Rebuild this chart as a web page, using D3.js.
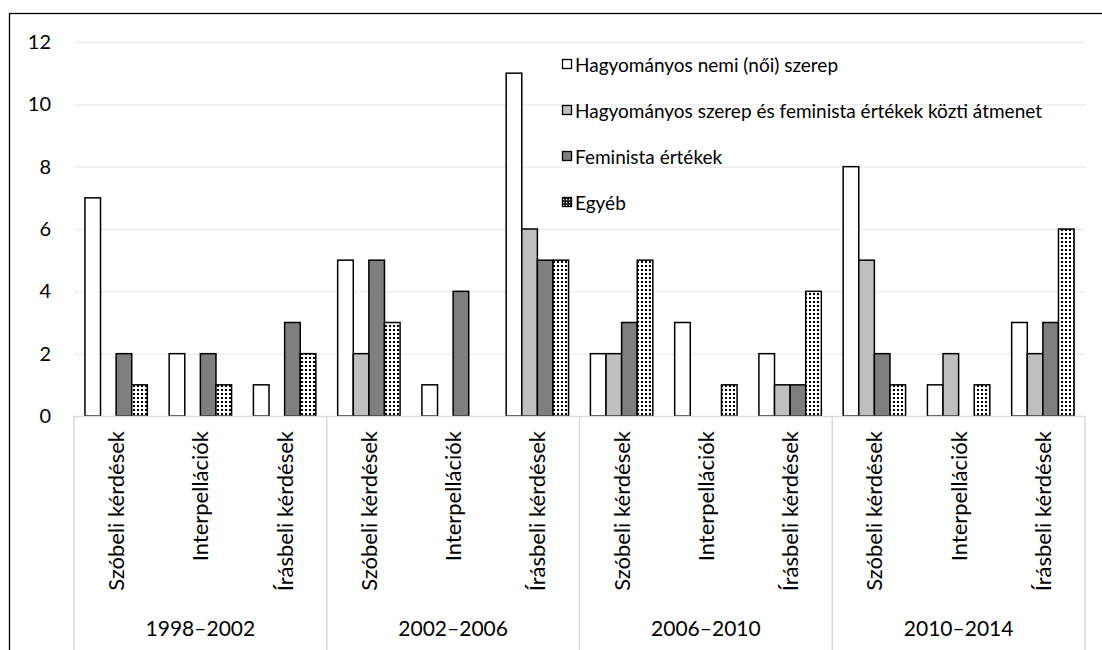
<!DOCTYPE html>
<html>
<head>
<meta charset="utf-8">
<script src="https://cdnjs.cloudflare.com/ajax/libs/d3/7.8.5/d3.min.js"></script>
<style>
  body { margin: 0; background: #fff; }
  text { font-family: Lato, "Open Sans", sans-serif; fill: #000; }
</style>
</head>
<body>
<div class="vis"></div>
<script>
// Data
var periods = ["1998–2002", "2002–2006", "2006–2010", "2010–2014"];
var types = ["Szóbeli kérdések", "Interpellációk", "Írásbeli kérdések"];
var seriesNames = [
  "Hagyományos nemi (női) szerep",
  "Hagyományos szerep és feminista értékek közti átmenet",
  "Feminista értékek",
  "Egyéb"
];
// one value per period x type, in order
var traditional = [7, 2, 1, 5, 1, 11, 2, 3, 2, 8, 1, 3];
var transition  = [0, 0, 0, 2, 0, 6, 2, 0, 1, 5, 2, 2];
var feminist    = [2, 2, 3, 5, 4, 5, 3, 0, 1, 2, 0, 3];
var other       = [1, 1, 2, 3, 0, 5, 5, 1, 4, 1, 1, 6];
var yTicks = [0, 2, 4, 6, 8, 10, 12];

var seriesValues = [traditional, transition, feminist, other];

var width = 1102, height = 650;
var plot = {left: 74, right: 1085, top: 42, bottom: 416};

var svg = d3.select(".vis")
  .append("svg")
  .attr("width", width)
  .attr("height", height);

// dotted pattern for "Egyéb"
var defs = svg.append("defs");
var pat = defs.append("pattern")
  .attr("id", "dots")
  .attr("patternUnits", "userSpaceOnUse")
  .attr("width", 4).attr("height", 4);
pat.append("rect").attr("width", 4).attr("height", 4).attr("fill", "#fff");
pat.append("rect").attr("x", 1).attr("y", 1).attr("width", 2).attr("height", 2).attr("fill", "#000");

// the small legend swatch reads darker (white dots on black)
var pat2 = defs.append("pattern")
  .attr("id", "dotsDark")
  .attr("patternUnits", "userSpaceOnUse")
  .attr("width", 3).attr("height", 3);
pat2.append("rect").attr("width", 3).attr("height", 3).attr("fill", "#222");
pat2.append("rect").attr("x", 1).attr("y", 1).attr("width", 1.2).attr("height", 1.2).attr("fill", "#fff");

var fills = ["#ffffff", "#bfbfbf", "#7f7f7f", "url(#dots)"];
var legendFills = ["#ffffff", "#bfbfbf", "#7f7f7f", "url(#dotsDark)"];

// outer frame
svg.append("rect")
  .attr("x", 9.5).attr("y", 13.5)
  .attr("width", 1100).attr("height", 700)
  .attr("fill", "none")
  .attr("stroke", "#000")
  .attr("stroke-width", 1.3);

// categories: each period x type
var cats = [];
periods.forEach(function(p) {
  types.forEach(function(t) { cats.push(p + "|" + t); });
});

var x0 = d3.scaleBand().domain(cats).range([plot.left, plot.right]).paddingInner(0).paddingOuter(0);
var x1 = d3.scaleBand().domain(d3.range(seriesNames.length))
  .range([0, x0.bandwidth()]).paddingInner(0).paddingOuter(0.7);
var xp = d3.scaleBand().domain(periods).range([plot.left, plot.right]);
var y = d3.scaleLinear().domain([0, 12]).range([plot.bottom, plot.top]);

// gridlines
svg.append("g")
  .selectAll("line")
  .data(yTicks.filter(function(d) { return d > 0; }))
  .enter().append("line")
  .attr("x1", plot.left).attr("x2", plot.right)
  .attr("y1", function(d) { return y(d) + 0.5; })
  .attr("y2", function(d) { return y(d) + 0.5; })
  .attr("stroke", "#efefef")
  .attr("stroke-width", 1.5);

// y axis labels
var yAxis = d3.axisLeft(y).tickValues(yTicks).tickSize(0).tickPadding(0);
var ya = svg.append("g")
  .attr("transform", "translate(51,0)")
  .call(yAxis);
ya.select(".domain").remove();
ya.selectAll("text")
  .style("font-family", "Lato, 'Open Sans', sans-serif")
  .attr("font-size", "20px")
  .attr("fill", "#000");

// bars
var barData = [];
cats.forEach(function(c, i) {
  seriesValues.forEach(function(vals, s) {
    if (vals[i] > 0) barData.push({ cat: c, s: s, v: vals[i] });
  });
});

svg.append("g")
  .selectAll("rect")
  .data(barData)
  .enter().append("rect")
  .attr("x", function(d) { return x0(d.cat) + x1(d.s); })
  .attr("y", function(d) { return y(d.v); })
  .attr("width", x1.bandwidth())
  .attr("height", function(d) { return y(0) - y(d.v); })
  .attr("fill", function(d) { return fills[d.s]; })
  .attr("stroke", "#000")
  .attr("stroke-width", 1.5);

// category axis: baseline + group separators
var axisG = svg.append("g");
axisG.append("line")
  .attr("x1", plot.left).attr("x2", plot.right)
  .attr("y1", plot.bottom + 0.5).attr("y2", plot.bottom + 0.5)
  .attr("stroke", "#d9d9d9").attr("stroke-width", 1.5);
var seps = periods.map(function(p) { return xp(p); }).concat([plot.right]);
axisG.selectAll("line.sep")
  .data(seps)
  .enter().append("line")
  .attr("class", "sep")
  .attr("x1", function(d) { return d; }).attr("x2", function(d) { return d; })
  .attr("y1", plot.bottom).attr("y2", height)
  .attr("stroke", "#d9d9d9").attr("stroke-width", 1.5);

// sub-category labels (rotated)
axisG.selectAll("text.sub")
  .data(cats)
  .enter().append("text")
  .attr("class", "sub")
  .attr("transform", function(d) {
    return "translate(" + (x0(d) + x0.bandwidth() / 2 + 8) + "," + (plot.bottom + 15) + ") rotate(-90)";
  })
  .attr("text-anchor", "end")
  .attr("font-size", "22px")
  .text(function(d) { return d.split("|")[1]; });

// period labels
axisG.selectAll("text.per")
  .data(periods)
  .enter().append("text")
  .attr("class", "per")
  .attr("x", function(d) { return xp(d) + xp.bandwidth() / 2; })
  .attr("y", 636)
  .attr("text-anchor", "middle")
  .attr("font-size", "21px")
  .text(function(d) { return d; });

// legend
var legend = svg.append("g").attr("transform", "translate(562,0)");
var rowY = [72, 118, 164, 210];
var items = legend.selectAll("g")
  .data(seriesNames)
  .enter().append("g")
  .attr("transform", function(d, i) { return "translate(0," + rowY[i] + ")"; });
items.append("rect")
  .attr("x", 0.5).attr("y", -12.5)
  .attr("width", 9).attr("height", 9)
  .attr("fill", function(d, i) { return legendFills[i]; })
  .attr("stroke", "#000")
  .attr("stroke-width", 1.3);
items.append("text")
  .attr("x", 13)
  .attr("y", 0)
  .attr("font-size", "19px")
  .text(function(d) { return d; });
</script>
</body>
</html>
